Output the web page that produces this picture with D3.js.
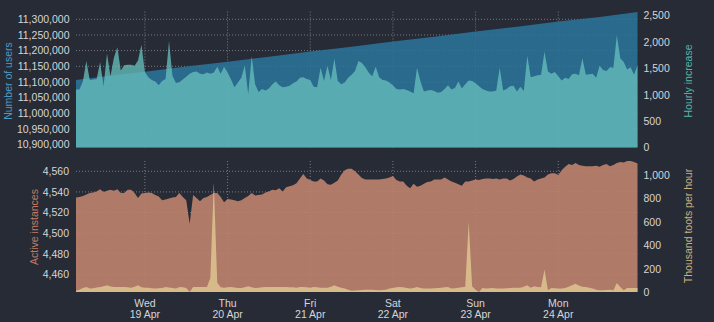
<!DOCTYPE html>
<html>
<head>
<meta charset="utf-8">
<script src="https://cdn.jsdelivr.net/npm/d3@7"></script>
<style>
  html, body { margin: 0; padding: 0; background: #272b36; }
  svg { display: block; }
  text { font-family: "Liberation Sans", Arial, sans-serif; }
</style>
</head>
<body>
<svg id="chart" width="714" height="322"></svg>
<script>
// Hourly series, first value at 18 Apr 2023 04:00 UTC
const seriesStart = Date.UTC(2023, 3, 18, 4);

const hourlyIncrease = [
  1100,1100,1250,1640,1280,1290,1300,1620,1160,1780,
  1350,1700,1900,1460,1560,1570,1570,1550,1650,1950,
  1430,1330,1280,1250,1180,1260,1300,2020,1360,1225,
  1235,1290,1340,1400,1430,1440,1400,1390,1420,1400,
  1420,1530,1400,1530,1420,1290,1140,1230,1320,1560,
  1010,1730,1200,1050,1110,1080,1120,1200,1250,1180,
  1140,1150,1170,1220,1250,1320,1330,1300,1280,1150,
  1140,1510,1260,1550,1280,1680,1260,1200,1230,1320,
  1380,1450,1640,1600,1520,1415,1350,1530,1330,1280,
  1270,1230,1180,1110,1100,1110,1090,1060,1030,1510,
  1250,1060,1080,1090,1070,1040,1050,1110,1180,1100,
  1130,1250,1120,1200,1270,1260,1220,1160,1110,1080,
  1060,1060,1080,1510,1080,1110,1160,1170,1060,1150,
  1070,1740,1330,1350,1370,1380,1815,1440,1400,1430,
  1350,1270,1320,1300,1390,1400,1370,1690,1380,1390,
  1400,1320,1550,1470,1450,1520,1510,2130,1690,1620,
  1480,1520,1380,1560
];

const activeInstances = [
  4534.5,4535,4536,4537.5,4539,4539.5,4540.3,4542.5,4540,4541,
  4542,4541,4542.5,4539,4539,4542,4542,4539,4534,4538.5,
  4539,4539.5,4539,4537,4535.5,4532,4532.5,4533.5,4534.5,4535,
  4539,4535,4532,4509,4537,4534,4531,4534,4535,4537,
  4539,4539,4535,4530,4533,4532.5,4532,4531,4532,4534,
  4536,4539,4536.5,4537,4537.5,4539.5,4540.5,4542,4541.5,4543.5,
  4540.5,4544.5,4545.5,4546.5,4548.4,4553,4557.4,4553,4551.5,4550,
  4550,4553,4551,4547.5,4547,4549,4551,4557,4561,4562.5,
  4562.5,4560,4557,4553.5,4552,4552,4552,4552,4552,4552.5,
  4553,4554,4555.5,4551.5,4550,4550,4546,4543.5,4548,4545,
  4546,4548,4549.5,4550,4552,4552,4552,4554,4552,4550,
  4549,4547.5,4546,4550,4550,4551,4552,4551.5,4552.5,4553,
  4553,4552.5,4553,4552,4553,4553,4551,4552.5,4555,4557,
  4556,4554,4553,4550,4552,4553,4554,4557,4558,4558,
  4556.5,4561,4564.5,4567,4566,4568,4566,4565.5,4565,4565,
  4565,4565.5,4564.5,4566,4567,4565,4566,4568,4569,4568.5,
  4570,4570,4569,4567.5
];

// thousand toots per hour
const tootsPerHour = [
  10,20,35,43,29,32,38,43,50,57,
  48,43,43,43,42,40,37,45,57,40,
  37,37,32,29,33,35,43,38,34,30,
  43,40,35,0,43,43,43,43,43,120,
  940,80,40,37,40,43,38,34,34,40,
  49,40,34,37,40,43,43,43,43,43,
  43,43,40,40,37,43,43,40,37,43,
  40,37,37,37,45,57,45,37,30,20,
  10,12,14,17,20,20,20,17,15,17,
  20,29,34,40,43,40,34,29,35,43,
  35,29,29,29,32,34,37,40,43,30,
  32,37,40,45,600,50,20,0,34,30,
  32,34,30,29,30,32,34,37,37,37,
  45,57,37,49,43,40,192,15,34,32,
  29,30,35,45,57,71,55,45,43,37,
  30,20,15,15,18,20,15,77,43,15,
  34,34,34,34
];

// total registered users, sampled at these hour offsets
const userHours = [0, 8, 20, 32, 44, 56, 68, 80, 92, 104, 116, 128, 140, 152, 163];
const users = [11106100, 11117600, 11132900, 11149200, 11164800, 11180500, 11196800,
  11212600, 11229000, 11244600, 11260900, 11276500, 11292800, 11307600, 11323100];

const userTicks = [10900000, 10950000, 11000000, 11050000, 11100000, 11150000, 11200000, 11250000, 11300000];
const increaseTicks = [0, 500, 1000, 1500, 2000, 2500];
const instanceTicks = [4460, 4480, 4500, 4520, 4540, 4560];
const tootTicks = [0, 200, 400, 600, 800, 1000];

const hourMs = 3600 * 1000;
const timeAt = i => new Date(seriesStart + i * hourMs);

const svg = d3.select("#chart");
const fmt = d3.format(",");

const x = d3.scaleUtc()
  .domain([timeAt(0), timeAt(hourlyIncrease.length - 1)])
  .range([76, 637.5]);
const dayTicks = d3.utcDay.range(timeAt(0), timeAt(hourlyIncrease.length - 1));

const upperPanel = { y0: 147.5, y1: 11.5 };
const lowerPanel = { y0: 292, y1: 161 };

const yUsers = d3.scaleLinear().domain([10890700, 11324900]).range([upperPanel.y0, upperPanel.y1]);
const yIncrease = d3.scaleLinear().domain([0, 2578]).range([upperPanel.y0, upperPanel.y1]);
const yInstances = d3.scaleLinear().domain([4442.8, 4570]).range([lowerPanel.y0, lowerPanel.y1]);
const yToots = d3.scaleLinear().domain([0, 1122]).range([lowerPanel.y0, lowerPanel.y1]);

const gridColor = "#777a84";
const labelColor = "#d6d6d6";

function grid(panel, yScale, ticks) {
  const g = svg.append("g").attr("class", "grid");
  g.selectAll("line.h").data(ticks).join("line")
    .attr("class", "h")
    .attr("x1", x.range()[0]).attr("x2", x.range()[1])
    .attr("y1", d => yScale(d)).attr("y2", d => yScale(d))
    .attr("stroke", gridColor).attr("stroke-width", 1)
    .attr("stroke-dasharray", "1,2");
  g.selectAll("line.v").data(dayTicks).join("line")
    .attr("class", "v")
    .attr("x1", d => x(d)).attr("x2", d => x(d))
    .attr("y1", panel.y1).attr("y2", panel.y0)
    .attr("stroke", gridColor).attr("stroke-width", 1)
    .attr("stroke-dasharray", "1,2");
}

grid(upperPanel, yUsers, userTicks);
grid(lowerPanel, yInstances, instanceTicks);

// Users (upper panel, left axis)
svg.append("path")
  .datum(users)
  .attr("fill", "#2b759b").attr("fill-opacity", 0.86)
  .attr("d", d3.area()
    .x((d, i) => x(timeAt(userHours[i])))
    .y0(upperPanel.y0)
    .y1(d => yUsers(d)));

// Hourly increase (upper panel, right axis)
svg.append("path")
  .datum(hourlyIncrease)
  .attr("fill", "#67c1bd").attr("fill-opacity", 0.76)
  .attr("d", d3.area()
    .x((d, i) => x(timeAt(i)))
    .y0(yIncrease(0))
    .y1(d => yIncrease(d)));

// Active instances (lower panel, left axis)
svg.append("path")
  .datum(activeInstances)
  .attr("fill", "#bf836e").attr("fill-opacity", 0.9)
  .attr("d", d3.area()
    .x((d, i) => x(timeAt(i)))
    .y0(lowerPanel.y0)
    .y1(d => yInstances(d)));

// Toots per hour (lower panel, right axis)
svg.append("path")
  .datum(tootsPerHour)
  .attr("fill", "#dcc08e").attr("fill-opacity", 0.9)
  .attr("d", d3.area()
    .x((d, i) => x(timeAt(i)))
    .y0(yToots(0))
    .y1(d => yToots(d)));

// Axes
function axis(scale, ticks, side, xpos) {
  const a = (side === "left" ? d3.axisLeft(scale) : d3.axisRight(scale))
    .tickValues(ticks).tickFormat(fmt).tickSize(0).tickPadding(0);
  const g = svg.append("g").attr("transform", `translate(${xpos},0)`).call(a);
  g.select(".domain").remove();
  g.selectAll("text")
    .attr("fill", labelColor)
    .attr("font-size", "10.5px")
    .attr("font-family", "'Liberation Sans', Arial, sans-serif");
  return g;
}
axis(yUsers, userTicks, "left", 69.5);
axis(yIncrease, increaseTicks, "right", 643.5);
axis(yInstances, instanceTicks, "left", 69);
axis(yToots, tootTicks, "right", 643.5);

// Day labels
const dayFmt = d3.utcFormat("%a");
const dateFmt = d3.utcFormat("%-d %b");
const xl = svg.append("g").selectAll("text").data(dayTicks).join("text")
  .attr("x", d => x(d)).attr("y", 307)
  .attr("text-anchor", "middle")
  .attr("fill", labelColor)
  .attr("font-size", "10.5px");
xl.append("tspan").attr("x", d => x(d)).text(d => dayFmt(d));
xl.append("tspan").attr("x", d => x(d)).attr("dy", 11).text(d => dateFmt(d));

// Axis titles
function title(txt, cx, cy, color) {
  svg.append("text")
    .attr("transform", `translate(${cx},${cy}) rotate(-90)`)
    .attr("text-anchor", "middle")
    .attr("dy", "0.35em")
    .attr("fill", color)
    .attr("font-size", "10.5px")
    .text(txt);
}
title("Number of users", 8.5, 81, "#4c9cc6");
title("Hourly increase", 688.5, 81, "#55b7a8");
title("Active instances", 34, 227, "#c27c63");
title("Thousand toots per hour", 688, 226, "#c9b27f");
</script>
</body>
</html>
